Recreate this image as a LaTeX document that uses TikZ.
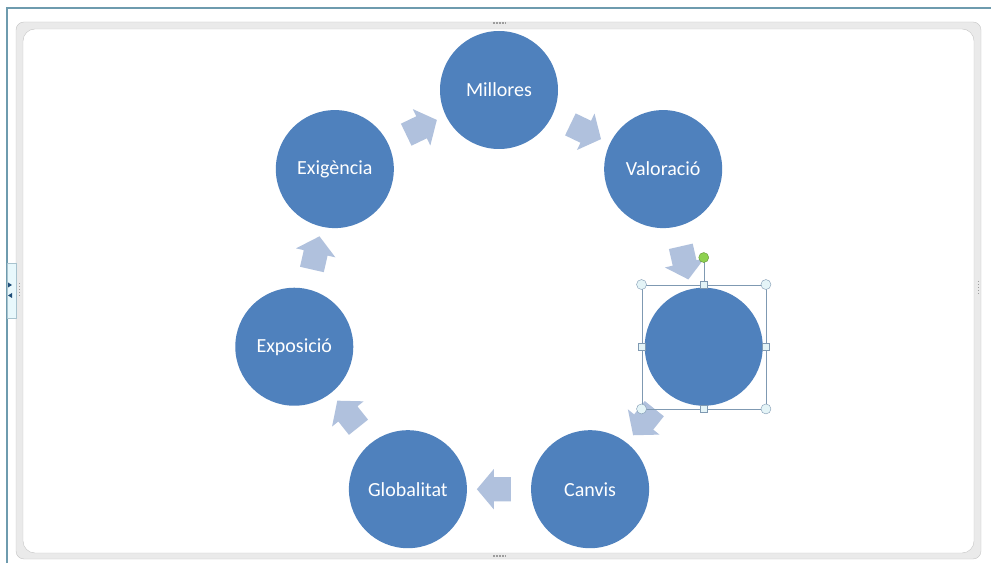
\documentclass[tikz,border=0pt]{standalone}
\usepackage{fontspec}
\setmainfont{Carlito}
\usetikzlibrary{calc,shapes.arrows}
\definecolor{cercle}{HTML}{4F81BD}
\definecolor{fletxa}{HTML}{B0C1DD}
\definecolor{vora}{HTML}{C4C4C4}
\definecolor{marc}{HTML}{EAEAEA}
\definecolor{linia}{HTML}{6E9BAE}
\definecolor{nansa}{HTML}{E4F4F7}
\definecolor{selline}{HTML}{7F99B2}
\definecolor{verd}{HTML}{8ED14F}
\definecolor{pestanya}{HTML}{E8F8FC}
\definecolor{fosc}{HTML}{1F4E79}

\begin{document}
\begin{tikzpicture}
            [
                x=1pt, y=1pt,
                stage/.style={circle, fill=cercle, text=white, minimum size=118pt,
                    inner sep=0pt, font=\fontsize{20}{24}\selectfont},
                blockarrow/.style={single arrow, fill=fletxa, minimum height=34pt,
                    inner xsep=0pt, inner ysep=12pt, single arrow head extend=8pt,
                    single arrow tip angle=100},
                roundhandle/.style={circle, draw=selline, fill=nansa, minimum size=10pt, inner sep=0pt},
                squarehandle/.style={rectangle, draw=selline, fill=nansa, minimum size=7pt, inner sep=0pt},
                grip/.style={draw=vora!80!black, line width=1.5pt, dash pattern=on 1.5pt off 1.5pt}
            ]
            \useasboundingbox (0,0) rectangle (991,568);

            % window edge and frame
            \draw[linia, line width=1.2pt] (7,5) -- (7,560) -- (991,560);
            \draw[vora, fill=marc, rounded corners=8pt] (16,9) rectangle (981,546);
            \draw[vora, fill=white, rounded corners=12pt] (23,15) rectangle (974,539);
            \draw[grip] (493,545) -- (506,545);
            \draw[grip] (493,12) -- (506,12);
            \draw[grip] (19.5,285) -- (19.5,272);
            \draw[grip] (978.5,287) -- (978.5,274);

            % side tab
            \draw[linia!60, fill=pestanya] (7,250) rectangle (16,305);
            \fill[fosc] (8,285.5) -- (12,283) -- (8,280.5) -- cycle;
            \fill[fosc] (12,275) -- (8,272.5) -- (12,270) -- cycle;

            \coordinate (centre) at (499,268);

            \node[stage] (millores)   at ([shift={(90:210)}]centre) {Millores};
            \node[stage] (valoracio)  at ([shift={(38.57:210)}]centre) {Valoració};
            \node[stage] (buit)       at ([shift={(-12.86:210)}]centre) {};
            \node[stage] (canvis)     at ([shift={(-64.29:210)}]centre) {Canvis};
            \node[stage] (globalitat) at ([shift={(-115.71:210)}]centre) {Globalitat};
            \node[stage] (exposicio)  at ([shift={(-167.14:210)}]centre) {Exposició};
            \node[stage] (exigencia)  at ([shift={(141.43:210)}]centre) {Exigència};

            \node[blockarrow, rotate=-25.71]  (a1) at ($(millores)!0.5!(valoracio)$) {};
            \node[blockarrow, rotate=-77.14]  (a2) at ($(valoracio)!0.5!(buit)$) {};
            \node[blockarrow, rotate=-128.57] (a3) at ($(buit)!0.5!(canvis)$) {};
            \node[blockarrow, rotate=-180]    (a4) at ($(canvis)!0.5!(globalitat)$) {};
            \node[blockarrow, rotate=-231.43] (a5) at ($(globalitat)!0.5!(exposicio)$) {};
            \node[blockarrow, rotate=-282.86] (a6) at ($(exposicio)!0.5!(exigencia)$) {};
            \node[blockarrow, rotate=-334.29] (a7) at ($(exigencia)!0.5!(millores)$) {};

            % selection box
            \node[draw=selline, minimum size=124pt, inner sep=0pt] (sel) at (buit) {};
            \coordinate (gir) at ([yshift=27pt]sel.north);
            \draw[selline] (sel.north) -- (gir);
            \node[circle, draw=verd!70!black, fill=verd, minimum size=10pt, inner sep=0pt] (rot) at (gir) {};
            \node[roundhandle] (h1) at (sel.north west) {};
            \node[roundhandle] (h2) at (sel.north east) {};
            \node[roundhandle] (h3) at (sel.south west) {};
            \node[roundhandle] (h4) at (sel.south east) {};
            \node[squarehandle] (h5) at (sel.north) {};
            \node[squarehandle] (h6) at (sel.south) {};
            \node[squarehandle] (h7) at (sel.west) {};
            \node[squarehandle] (h8) at (sel.east) {};
        \end{tikzpicture}
\end{document}
